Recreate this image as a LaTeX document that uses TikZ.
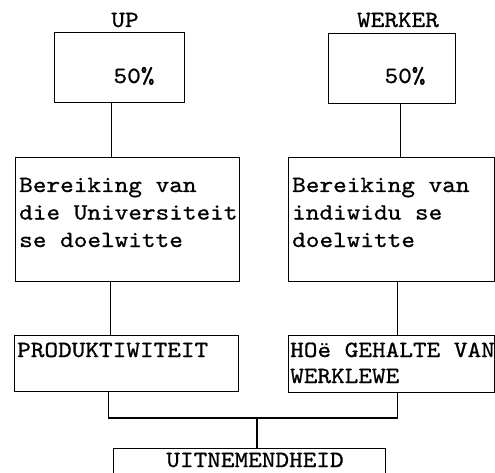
\documentclass[tikz,border=0pt]{standalone}
\usepackage{fontspec}
\newfontfamily\tw{lmmono10-regular.otf}[FakeStretch=1.12,FakeBold=0.8]
\begin{document}
\begin{tikzpicture}[x=1pt,y=-1pt,
  box/.style={draw, line width=1.4pt, rectangle, inner sep=0pt, anchor=north west},
  txt/.style={font=\tw\fontsize{23.2}{27}\selectfont, inner sep=0pt},
  link/.style={line width=1.4pt}]
\useasboundingbox (0,0) rectangle (495,473);
\clip (0,0) rectangle (495,473);
% boxes
\node[box, minimum width=130pt, minimum height=70pt] (b1) at (54,32) {};
\node[box, minimum width=127pt, minimum height=70pt] (b2) at (328,33) {};
\node[box, minimum width=224pt, minimum height=124pt] (b3) at (15,157) {};
\node[box, minimum width=206pt, minimum height=124pt] (b4) at (288,157) {};
\node[box, minimum width=224pt, minimum height=56pt] (b5) at (14,335) {};
\node[box, minimum width=206pt, minimum height=57pt] (b6) at (288,335) {};
\node[box, minimum width=272pt, minimum height=60pt] (b7) at (113,448) {};
% texts
\node[txt, anchor=base] (tup) at (125,27) {UP};
\node[txt, anchor=base] (twerker) at (398,27) {WERKER};
\node[txt, anchor=base] (p1) at (134,83) {50\%};
\node[txt, anchor=base] (p2) at (405,83) {50\%};
\node[txt, anchor=base west] (l1) at (19,192) {Bereiking van};
\node[txt, anchor=base west] (l2) at (19,219.5) {die Universiteit};
\node[txt, anchor=base west] (l3) at (19,247) {se doelwitte};
\node[txt, anchor=base west] (r1) at (292,192) {Bereiking van};
\node[txt, anchor=base west] (r2) at (292,219.5) {indiwidu se};
\node[txt, anchor=base west] (r3) at (292,247) {doelwitte};
\node[txt, anchor=base west] (pr) at (17,357) {PRODUKTIWITEIT};
\node[txt, anchor=base west] (h1) at (290,357) {HOë GEHALTE VAN};
\node[txt, anchor=base west] (h2) at (290,383) {WERKLEWE};
\node[txt, anchor=base] (ui) at (255,467) {UITNEMENDHEID};
% connectors
\draw[link] ([xshift=-8pt]b1.south) -- ([xshift=-8pt]b1.south |- b3.north);
\draw[link] ([xshift=-17pt]b3.south) -- ([xshift=-17pt]b3.south |- b5.north);
\draw[link] ([xshift=8.5pt]b2.south) -- ([xshift=8.5pt]b2.south |- b4.north);
\draw[link] ([xshift=6pt]b4.south) -- ([xshift=6pt]b4.south |- b6.north);
\coordinate (j) at (257,418);
\draw[link] ([xshift=-18pt]b5.south) |- (j) -| ([xshift=6pt]b6.south);
\draw[link] (j) -- (j |- b7.north);
\end{tikzpicture}
\end{document}
